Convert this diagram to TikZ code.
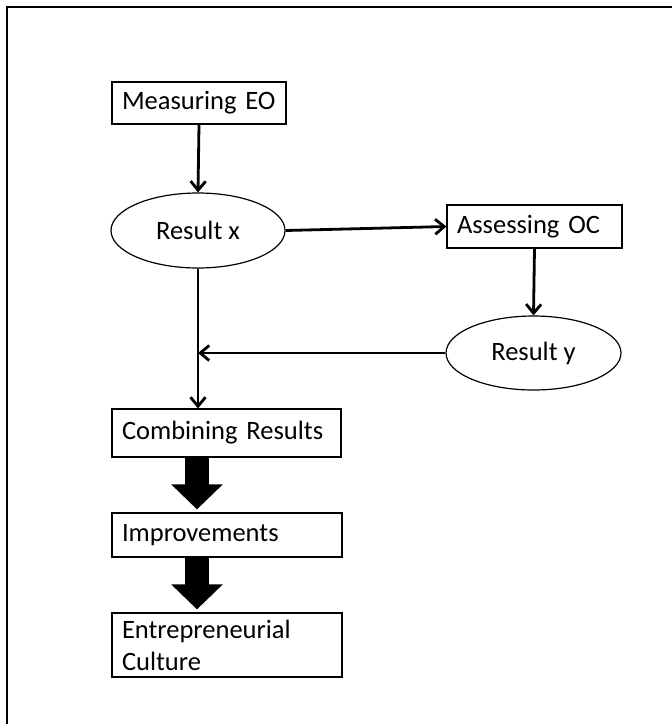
\documentclass[tikz,border=0pt]{standalone}
\usepackage{fontspec}
\setmainfont{Carlito}
\usetikzlibrary{arrows.meta,shapes.geometric,calc}
\begin{document}
\begin{tikzpicture}[x=1pt,y=-1pt,
  every node/.style={font=\fontsize{26.5}{32}\selectfont},
  stepbox/.style={draw, line width=1.2pt, rectangle, inner xsep=10pt, inner ysep=0pt, align=left},
  resultell/.style={draw, line width=1.2pt, ellipse, inner sep=0pt},
  flow/.style={line width=2.8pt, -{Straight Barb[length=9pt,width=15pt]}, line join=miter},
  fat/.style={line width=24pt, -{Triangle[length=25pt,width=50pt]}, shorten >=3pt}
]
\useasboundingbox (0,0) rectangle (672,724);
\draw[line width=2pt] (7,724) -- (7,7) -- (672,7);

\node[stepbox, text width=154pt, minimum height=42pt] (me) at (199,103) {Measuring EO};
\node[resultell, minimum width=174pt, minimum height=75pt] (rx) at (198,230.5) {Result x};
\node[stepbox, text width=155pt, minimum height=43pt] (ac) at (534.5,226.5) {Assessing OC};
\node[resultell, minimum width=175pt, minimum height=74pt] (ry) at (533.5,353) {Result y};
\node[stepbox, text width=209pt, minimum height=48pt] (cr) at (226.5,433) {Combining Results};
\node[stepbox, text width=210pt, minimum height=44pt] (im) at (227,535) {Improvements};
\node[stepbox, text width=210pt, minimum height=64pt] (ec) at (227,645) {Entrepreneurial\\Culture};

\coordinate (j) at (ry.west -| rx.south);
\draw[flow] (me.south) -- (rx.north);
\draw[flow] (rx.east) -- (ac.west);
\draw[flow] (ac.south) -- (ry.north);
\draw[flow] (ry.west) -- (j);
\draw[flow] (rx.south) -- (rx.south |- cr.north);
\draw[fat] (197,0 |- cr.south) -- (197,0 |- im.north);
\draw[fat] (197,0 |- im.south) -- (197,0 |- ec.north);
\end{tikzpicture}
\end{document}
